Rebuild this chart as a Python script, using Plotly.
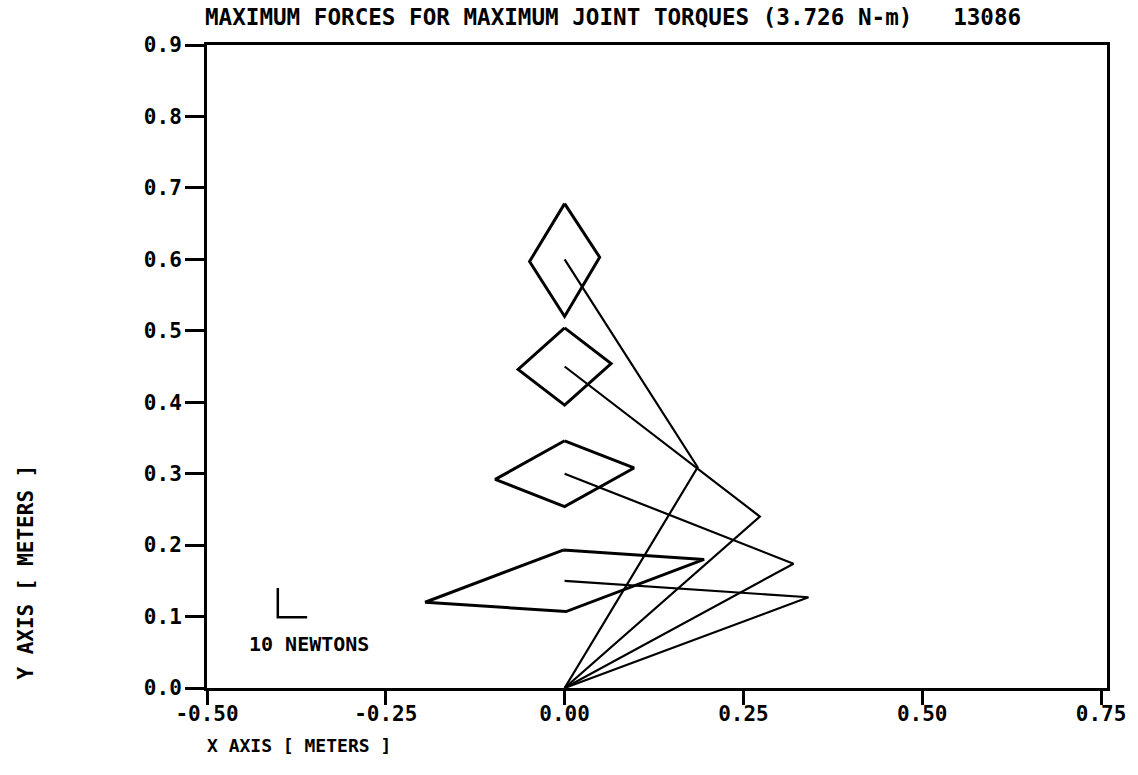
import plotly.graph_objects as go

# Arm configurations: base at origin, elbow position, end-effector position (meters)
end_x = [0.0, 0.0, 0.0, 0.0]
end_y = [0.60, 0.45, 0.30, 0.15]
elbow_x = [0.186, 0.273, 0.320, 0.341]
elbow_y = [0.309, 0.240, 0.174, 0.127]

# Maximum-force parallelograms at each end point (corners: top, right, bottom, left)
poly_x = [
    [0.000, 0.049, 0.000, -0.049],
    [0.000, 0.065, 0.000, -0.065],
    [0.000, 0.097, 0.000, -0.097],
    [-0.002, 0.195, 0.002, -0.195],
]
poly_y = [
    [0.678, 0.603, 0.520, 0.597],
    [0.504, 0.454, 0.396, 0.446],
    [0.346, 0.308, 0.254, 0.292],
    [0.193, 0.180, 0.107, 0.120],
]

# Force scale bar: 10 N drawn as this length in plot units
scale_x0, scale_y0 = -0.401, 0.099
scale_len = 0.041
scale_label = "10 NEWTONS"

x_ticks = [-0.50, -0.25, 0.00, 0.25, 0.50, 0.75]
x_ticktext = ["-0.50", "-0.25", "0.00", "0.25", "0.50", "0.75"]
y_ticks = [0.0, 0.1, 0.2, 0.3, 0.4, 0.5, 0.6, 0.7, 0.8, 0.9]
y_ticktext = ["0.0", "0.1", "0.2", "0.3", "0.4", "0.5", "0.6", "0.7", "0.8", "0.9"]

title_text = "MAXIMUM FORCES FOR MAXIMUM JOINT TORQUES (3.726 N-m)\u00a0\u00a0\u00a013086"

FONT = "DejaVu Sans Mono"
W, H = 1138, 775
ML, MR, MT, MB = 207, 28, 45, 87

fig = go.Figure()

for i in range(len(end_x)):
    fig.add_trace(go.Scatter(
        x=[0.0, elbow_x[i], end_x[i]],
        y=[0.0, elbow_y[i], end_y[i]],
        mode="lines",
        line=dict(color="black", width=2.2),
        hoverinfo="skip",
    ))

for px, py in zip(poly_x, poly_y):
    fig.add_trace(go.Scatter(
        x=px + [px[0]],
        y=py + [py[0]],
        mode="lines",
        line=dict(color="black", width=3),
        hoverinfo="skip",
    ))

# Scale bar ("L" shape)
fig.add_trace(go.Scatter(
    x=[scale_x0, scale_x0, scale_x0 + scale_len],
    y=[scale_y0 + scale_len, scale_y0, scale_y0],
    mode="lines",
    line=dict(color="black", width=2.5),
    hoverinfo="skip",
))

axis_common = dict(
    showgrid=False,
    zeroline=False,
    showline=True,
    linecolor="black",
    linewidth=3,
    mirror=True,
    ticks="outside",
    tickcolor="black",
    tickwidth=2.5,
    tickfont=dict(family=FONT, size=21, color="black", weight="bold"),
    fixedrange=True,
)

plot_w = W - ML - MR
x_min = -0.5
x_max = x_min + plot_w / 717.6

fig.update_layout(
    width=W,
    height=H,
    margin=dict(l=ML, r=MR, t=MT, b=MB, pad=0),
    paper_bgcolor="white",
    plot_bgcolor="white",
    showlegend=False,
    title=dict(
        text=title_text,
        font=dict(family=FONT, size=22.6, color="black", weight="bold"),
        xref="container", yref="container",
        x=205 / W, xanchor="left",
        y=1 - 17 / H, yanchor="middle",
    ),
    xaxis=dict(
        range=[x_min, x_max],
        tickvals=x_ticks,
        ticktext=x_ticktext,
        ticklen=14,
        ticklabelstandoff=-9,
        **axis_common,
    ),
    yaxis=dict(
        range=[0, 0.9],
        tickvals=y_ticks,
        ticktext=y_ticktext,
        ticklen=19,
        ticklabelstandoff=-1,
        **axis_common,
    ),
)

plot_h = H - MT - MB

fig.add_annotation(
    text=scale_label,
    x=scale_x0 - 0.043, y=0.062, xref="x", yref="y",
    xanchor="left", yanchor="middle", showarrow=False,
    font=dict(family=FONT, size=20, color="black", weight="bold"),
)
fig.add_annotation(
    text="X AXIS [ METERS ]",
    x=-2 / plot_w, xref="paper", xanchor="left",
    y=-(745 - (H - MB)) / plot_h, yref="paper", yanchor="middle",
    showarrow=False,
    font=dict(family=FONT, size=18, color="black", weight="bold"),
)
fig.add_annotation(
    text="Y AXIS [ METERS ]",
    x=(25 - ML) / plot_w, xref="paper", xanchor="center",
    y=((H - MB) - 572) / plot_h, yref="paper", yanchor="middle",
    textangle=-90, showarrow=False,
    font=dict(family=FONT, size=21, color="black", weight="bold"),
)

fig.write_html("out.html", config={"displayModeBar": False})
